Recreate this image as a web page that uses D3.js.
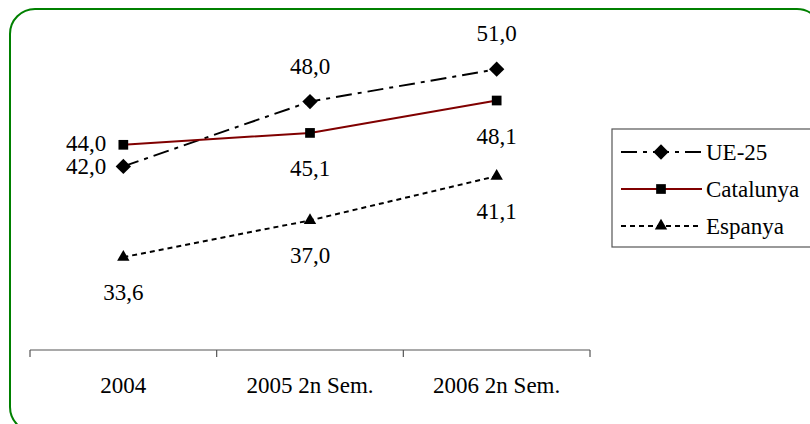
<!DOCTYPE html>
<html>
<head>
<meta charset="utf-8">
<script src="https://cdn.jsdelivr.net/npm/d3@7"></script>
</head>
<body style="margin:0">
<svg id="chart" width="810" height="424" font-family="Liberation Serif"></svg>
<script>
let categories = ["2004", "2005 2n Sem.", "2006 2n Sem."];
let seriesNames = ["UE-25", "Catalunya", "Espanya"];
let ue25 = [42.0, 48.0, 51.0];
let catalunya = [44.0, 45.1, 48.1];
let espanya = [33.6, 37.0, 41.1];

let series = [
  {name: seriesNames[0], values: ue25, color: "#000", dash: "16,6,4,6", symbol: d3.symbolDiamond2, size: 150, labelPos: ["left", "above", "above"], shift: 1},
  {name: seriesNames[1], values: catalunya, color: "#800000", dash: null, symbol: d3.symbolSquare2, size: 120, labelPos: ["left", "below", "below"], shift: -1},
  {name: seriesNames[2], values: espanya, color: "#000", dash: "5,4", symbol: d3.symbolTriangle2, size: 110, labelPos: ["below", "below", "below"], shift: 0}
];

let svg = d3.select("#chart");

// all texts share the same serif face
function label(sel) {
  return sel.attr("font-family", "Liberation Serif")
    .style("font-family", "\"Liberation Serif\"")
    .style("font-size", "23px");
}

// green rounded frame
svg.append("rect")
  .attr("x", 10).attr("y", 9)
  .attr("width", 812).attr("height", 423)
  .attr("rx", 25).attr("ry", 25)
  .attr("fill", "none")
  .attr("stroke", "#008000")
  .attr("stroke-width", 2);

let band = d3.scaleBand().domain(categories).range([30, 590]);
let x = d3.scalePoint().domain(categories).range([30, 590]).padding(0.5);
let y = d3.scaleLinear().domain([25, 55]).range([350, 26]);

let fmt = v => d3.format(".1f")(v).replace(".", ",");

// category axis
let axis = svg.append("g").attr("transform", "translate(0,350)");
axis.append("line")
  .attr("x1", 30).attr("x2", 590)
  .attr("stroke", "#555").attr("stroke-width", 1.2);
let bounds = categories.map(c => band(c)).concat([band.range()[1]]);
axis.selectAll("line.tick")
  .data(bounds)
  .enter().append("line")
  .attr("class", "tick")
  .attr("x1", d => d).attr("x2", d => d)
  .attr("y1", 0).attr("y2", 7)
  .attr("stroke", "#555").attr("stroke-width", 1.2);
axis.selectAll("text")
  .data(categories)
  .enter().append("text")
  .attr("x", d => x(d))
  .attr("y", 43)
  .attr("text-anchor", "middle")
  .call(label)
  .text(d => d);

let line = d3.line()
  .x((d, i) => x(categories[i]))
  .y(d => y(d));

series.forEach(s => {
  let g = svg.append("g");
  g.append("path")
    .attr("d", line(s.values))
    .attr("fill", "none")
    .attr("stroke", s.color)
    .attr("stroke-width", 2)
    .attr("stroke-dasharray", s.dash);
  g.selectAll("path.mark")
    .data(s.values)
    .enter().append("path")
    .attr("class", "mark")
    .attr("transform", (d, i) => "translate(" + x(categories[i]) + "," + y(d) + ")")
    .attr("d", d3.symbol().type(s.symbol).size(s.size))
    .attr("fill", "#000");
  g.selectAll("text")
    .data(s.values)
    .enter().append("text")
    .attr("x", (d, i) => s.labelPos[i] === "left" ? x(categories[i]) - 17 : x(categories[i]))
    .attr("y", (d, i) => {
      let p = s.labelPos[i];
      if (p === "above") return y(d) - 28;
      if (p === "below") return y(d) + 43;
      return y(d) + 7 + s.shift;
    })
    .attr("text-anchor", (d, i) => s.labelPos[i] === "left" ? "end" : "middle")
    .call(label)
    .text(d => fmt(d));
});

// legend
let legend = svg.append("g");
legend.append("rect")
  .attr("x", 612).attr("y", 129)
  .attr("width", 220).attr("height", 118)
  .attr("fill", "#fff")
  .attr("stroke", "#555").attr("stroke-width", 1.2);
let ly = d3.scalePoint().domain(seriesNames).range([152, 226]);
series.forEach(s => {
  let row = legend.append("g").attr("transform", "translate(0," + ly(s.name) + ")");
  row.append("line")
    .attr("x1", 621).attr("x2", 702)
    .attr("stroke", s.color).attr("stroke-width", 2)
    .attr("stroke-dasharray", s.dash);
  row.append("path")
    .attr("transform", "translate(661,0)")
    .attr("d", d3.symbol().type(s.symbol).size(s.size))
    .attr("fill", "#000");
  row.append("text")
    .attr("x", 706).attr("y", 8)
    .call(label)
    .text(s.name);
});
</script>
</body>
</html>
